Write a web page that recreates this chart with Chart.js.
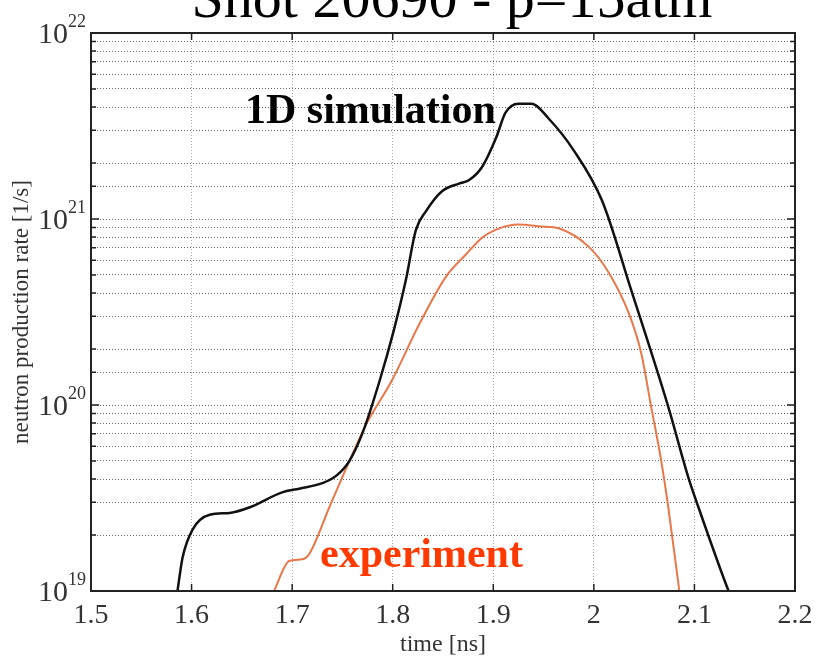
<!DOCTYPE html>
<html>
<head>
<meta charset="utf-8">
<script src="https://cdn.jsdelivr.net/npm/chart.js@4/dist/chart.umd.min.js"></script>
<style>
  html, body { margin: 0; padding: 0; background: #fff; }
  #wrap { width: 816px; height: 657px; }
</style>
</head>
<body>
<div id="wrap"><canvas id="chart"></canvas></div>
<script>
// time [ns] and rate [1/s]
const simTime = [1.586, 1.591, 1.601, 1.618, 1.638, 1.658, 1.690, 1.707, 1.730, 1.744, 1.757, 1.770, 1.787, 1.801, 1.813, 1.823, 1.833, 1.849, 1.866, 1.876, 1.889, 1.903, 1.912, 1.925, 1.938, 1.955, 1.980, 2.008, 2.037, 2.074, 2.094, 2.104, 2.131, 2.134];
const simRate = [1.0e19, 1.51e19, 2.14e19, 2.57e19, 2.63e19, 2.82e19, 3.39e19, 3.55e19, 3.80e19, 4.17e19, 5.01e19, 7.08e19, 1.35e20, 2.51e20, 4.68e20, 8.71e20, 1.10e21, 1.41e21, 1.55e21, 1.62e21, 1.91e21, 2.75e21, 3.72e21, 4.17e21, 4.17e21, 3.47e21, 2.34e21, 1.26e21, 4.17e20, 9.77e19, 4.07e19, 2.82e19, 1.10e19, 1.0e19];

const expTime = [1.682, 1.697, 1.710, 1.717, 1.737, 1.757, 1.774, 1.799, 1.826, 1.853, 1.873, 1.889, 1.906, 1.925, 1.948, 1.965, 1.995, 2.015, 2.035, 2.047, 2.057, 2.067, 2.074, 2.084, 2.085];
const expRate = [1.0e19, 1.45e19, 1.48e19, 1.58e19, 2.82e19, 5.01e19, 7.94e19, 1.35e20, 2.69e20, 4.90e20, 6.46e20, 7.94e20, 8.91e20, 9.33e20, 9.12e20, 8.91e20, 7.08e20, 5.13e20, 3.09e20, 1.91e20, 9.77e19, 5.01e19, 2.82e19, 1.10e19, 1.0e19];

const xTicks = [1.5, 1.6, 1.7, 1.8, 1.9, 2, 2.1, 2.2];
const yDecades = [19, 20, 21, 22];

const serif = "'Liberation Serif', 'DejaVu Serif', serif";

const decor = {
  id: 'decor',
  afterDraw(chart) {
    const ctx = chart.ctx;
    const a = chart.chartArea;
    const xs = chart.scales.x, ys = chart.scales.y;
    ctx.save();
    // inward tick marks
    ctx.strokeStyle = '#222';
    ctx.lineWidth = 1.5;
    ctx.beginPath();
    xTicks.forEach(v => {
      const px = xs.getPixelForValue(v);
      ctx.moveTo(px, a.bottom); ctx.lineTo(px, a.bottom - 7);
      ctx.moveTo(px, a.top); ctx.lineTo(px, a.top + 7);
    });
    ys.ticks.forEach(t => {
      const py = ys.getPixelForValue(t.value);
      const m = Math.abs(Math.log10(t.value) - Math.round(Math.log10(t.value))) < 1e-6;
      const len = m ? 8 : 5;
      ctx.moveTo(a.left, py); ctx.lineTo(a.left + len, py);
      ctx.moveTo(a.right, py); ctx.lineTo(a.right - len, py);
    });
    ctx.stroke();
    // box
    ctx.strokeStyle = '#222';
    ctx.lineWidth = 2;
    ctx.strokeRect(a.left, a.top, a.right - a.left, a.bottom - a.top);

    ctx.fillStyle = '#333';
    ctx.textBaseline = 'alphabetic';
    // x tick labels
    ctx.font = '28px ' + serif;
    ctx.textAlign = 'center';
    xTicks.forEach(v => {
      ctx.fillText(String(v), xs.getPixelForValue(v), a.bottom + 32);
    });
    // y tick labels 10^n
    yDecades.forEach(n => {
      const py = ys.getPixelForValue(Math.pow(10, n));
      ctx.font = '30px ' + serif;
      ctx.textAlign = 'right';
      ctx.fillText('10', a.left - 23, py + 10);
      ctx.font = '18px ' + serif;
      ctx.textAlign = 'left';
      ctx.fillText(String(n), a.left - 23, py - 6);
    });

    // title (cut by the top edge)
    ctx.fillStyle = '#000';
    ctx.font = '58px ' + serif;
    ctx.textAlign = 'center';
    ctx.fillText('Shot 20690 - p=15atm', 452, 17);

    // series labels
    ctx.textAlign = 'left';
    ctx.font = 'bold 42px ' + serif;
    ctx.fillStyle = '#000';
    ctx.fillText('1D simulation', 245, 123);
    ctx.fillStyle = '#ff3a00';
    ctx.fillText('experiment', 320, 567);
    ctx.restore();
  }
};

new Chart(document.getElementById('chart'), {
  type: 'line',
  data: {
    datasets: [
      {
        label: '1D simulation',
        data: simTime.map((t, i) => ({ x: t, y: simRate[i] })),
        borderColor: '#111',
        borderWidth: 2.5,
        pointRadius: 0,
        tension: 0.4,
        cubicInterpolationMode: 'monotone'
      },
      {
        label: 'experiment',
        data: expTime.map((t, i) => ({ x: t, y: expRate[i] })),
        borderColor: '#e8784a',
        borderWidth: 2,
        pointRadius: 0,
        tension: 0.4,
        cubicInterpolationMode: 'monotone'
      }
    ]
  },
  options: {
    responsive: true,
    maintainAspectRatio: false,
    animation: false,
    layout: { padding: { left: 0, right: 21, top: 33, bottom: 0 } },
    plugins: { legend: { display: false }, tooltip: { enabled: false } },
    scales: {
      x: {
        type: 'linear',
        min: 1.5, max: 2.2,
        afterBuildTicks: s => { s.ticks = xTicks.map(v => ({ value: v })); },
        ticks: { display: false },
        grid: { color: '#aaa', lineWidth: 1, drawTicks: false },
        border: { display: false, dash: [1, 2] },
        title: {
          display: true, text: 'time [ns]', color: '#333',
          font: { family: serif, size: 24, lineHeight: 1 },
          padding: { top: 42, bottom: 0 }
        }
      },
      y: {
        type: 'logarithmic',
        min: 1e19, max: 1e22,
        ticks: { display: false, autoSkip: false, callback: () => '' },
        grid: { color: '#666', lineWidth: 1, drawTicks: false },
        border: { display: false, dash: [1, 2] },
        title: {
          display: true, text: 'neutron production rate [1/s]', color: '#333',
          font: { family: serif, size: 23, lineHeight: 1 },
          padding: { top: 10, bottom: 58 }
        }
      }
    }
  },
  plugins: [decor]
});
</script>
</body>
</html>
